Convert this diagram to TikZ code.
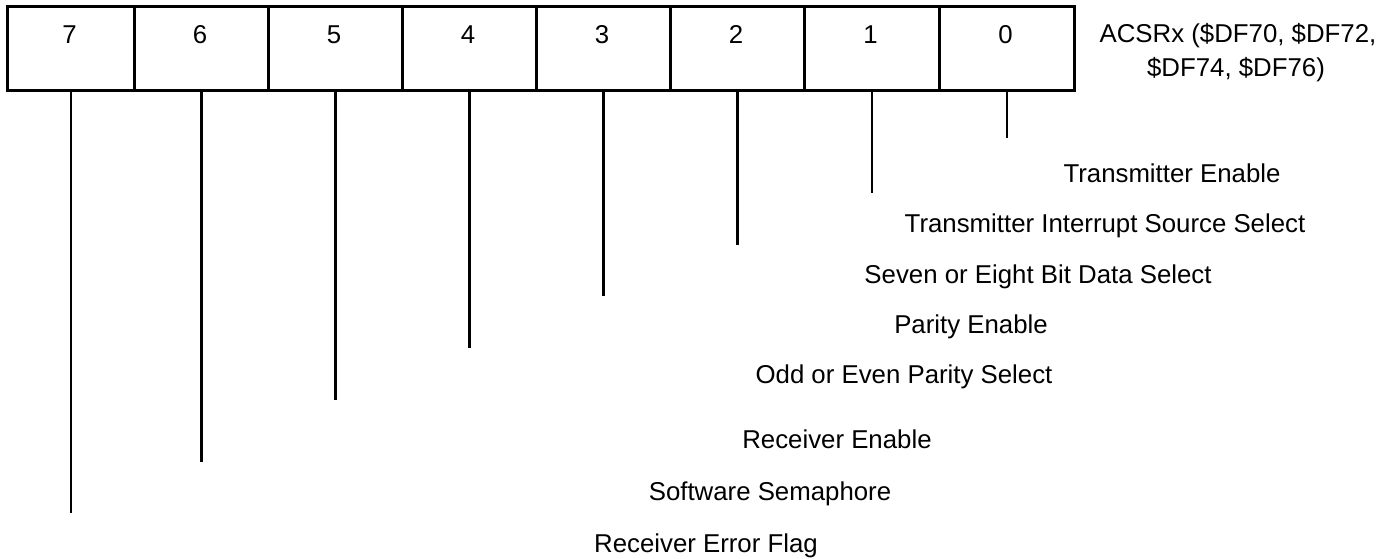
\documentclass[tikz,border=0pt]{standalone}
\usepackage{fontspec}
\setmainfont{Liberation Sans}
\begin{document}
\begin{tikzpicture}[x=1pt,y=-1pt,
  cellbox/.style={draw=black,line width=2.6pt,minimum height=84pt,inner sep=0pt,anchor=north west},
  bitnum/.style={anchor=base,inner sep=0pt,font=\fontsize{25.8}{34}\selectfont},
  flabel/.style={anchor=base,inner sep=0pt,font=\fontsize{25.8}{34}\selectfont},
  leader/.style={line width=2.6pt}]
\useasboundingbox (0,0) rectangle (1393,558);
% cells (left edge / right edge)
\foreach \b/\l/\r in {7/6/133,6/133/267,5/267/401,4/401/535,3/535/669,2/669/803,1/803/938,0/938/1073}{
  \node[cellbox,minimum width={(\r-\l)*1pt}] (c\b) at (\l,5) {};
  \node[bitnum] (n\b) at ({(\l+\r)/2},43) {\b};
}
\node[anchor=base,inner sep=0pt,font=\fontsize{25.8}{34}\selectfont] (title) at (1238,42) {ACSRx (\$DF70, \$DF72,};
\node[anchor=base,inner sep=0pt,font=\fontsize{25.8}{34}\selectfont] (title2) at (1236,76) {\$DF74, \$DF76)};
% leader end points
\coordinate (e0) at (c0.south |- 0,138);
\coordinate (e1) at (c1.south |- 0,193);
\coordinate (e2) at (c2.south |- 0,245);
\coordinate (e3) at (c3.south |- 0,296);
\coordinate (e4) at (c4.south |- 0,348);
\coordinate (e5) at (c5.south |- 0,400);
\coordinate (e6) at (c6.south |- 0,462);
\coordinate (e7) at (c7.south |- 0,513);
\foreach \b in {0,...,7}{ \draw[leader] (c\b.south) -- (e\b); }
% labels
\node[flabel] (l0) at (1172,182) {Transmitter Enable};
\node[flabel] (l1) at (1105,232) {Transmitter Interrupt Source Select};
\node[flabel] (l2) at (1038,283) {Seven or Eight Bit Data Select};
\node[flabel] (l3) at (971,333) {Parity Enable};
\node[flabel] (l4) at (904,383) {Odd or Even Parity Select};
\node[flabel] (l5) at (837,448) {Receiver Enable};
\node[flabel] (l6) at (770,500) {Software Semaphore};
\node[flabel] (l7) at (706,552) {Receiver Error Flag};
\end{tikzpicture}
\end{document}
